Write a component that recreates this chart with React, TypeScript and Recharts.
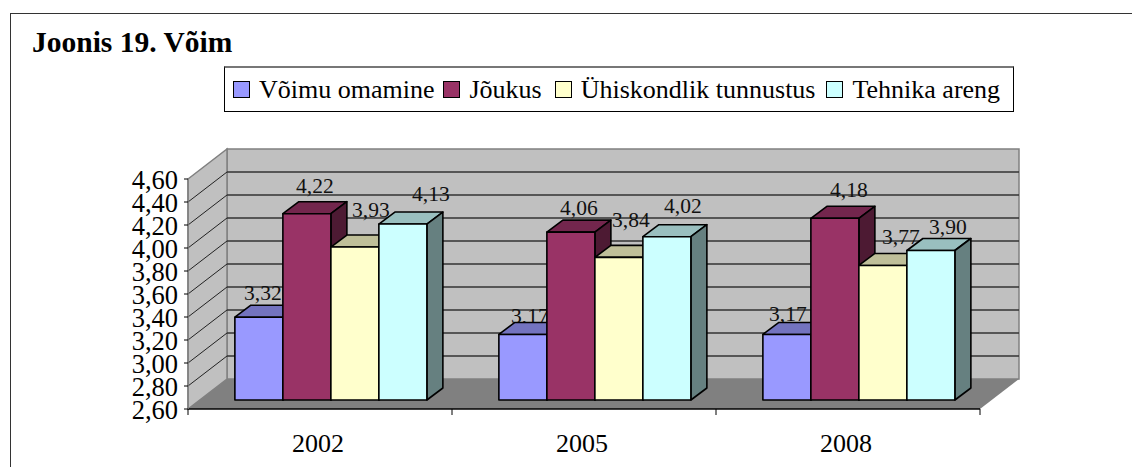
import {
  Bar,
  BarChart,
  CartesianGrid,
  Legend,
  ReferenceArea,
  XAxis,
  YAxis,
} from "recharts";

const years = ["2002", "2005", "2008"];
const voimuOmamine = [3.32, 3.17, 3.17];
const joukus = [4.22, 4.06, 4.18];
const tunnustus = [3.93, 3.84, 3.77];
const tehnika = [4.13, 4.02, 3.9];
const yTicks = [2.6, 2.8, 3.0, 3.2, 3.4, 3.6, 3.8, 4.0, 4.2, 4.4, 4.6];

const chartData = years.map((year, i) => ({
  year,
  voimuOmamine: voimuOmamine[i],
  joukus: joukus[i],
  tunnustus: tunnustus[i],
  tehnika: tehnika[i],
}));

const FONT = '"Liberation Serif", "Times New Roman", serif';
const WIDTH = 1132;
const HEIGHT = 467;
const PLOT_LEFT = 188;
const PLOT_RIGHT = 980;
const PLOT_TOP = 179;
const PLOT_BOTTOM = 409;
const LEGEND_HEIGHT = 46;

// fake 3D offsets: wall depth, bar plane, bar depth
const WALL_DX = 39;
const WALL_DY = 30;
const BAR_DX = 11.5;
const BAR_DY = 9;
const DEPTH_DX = 16;
const DEPTH_DY = 12;

const fmt = (v: number) => v.toFixed(2).replace(".", ",");

function Walls({ x, y, width, height }: any) {
  const r = x + width;
  const b = y + height;
  const pts = (arr: number[][]) => arr.map((p) => p.join(",")).join(" ");
  return (
    <g>
      <polygon
        points={pts([[x + WALL_DX, y - WALL_DY], [r + WALL_DX, y - WALL_DY], [r + WALL_DX, b - WALL_DY], [x + WALL_DX, b - WALL_DY]])}
        fill="#c0c0c0"
        stroke="#808080"
        strokeWidth={1.5}
      />
      <polygon
        points={pts([[x, y], [x + WALL_DX, y - WALL_DY], [x + WALL_DX, b - WALL_DY], [x, b]])}
        fill="#c0c0c0"
        stroke="#808080"
        strokeWidth={1.5}
      />
      <polygon
        points={pts([[x, b], [x + WALL_DX, b - WALL_DY], [r + WALL_DX, b - WALL_DY], [r, b]])}
        fill="#808080"
      />
    </g>
  );
}

function wallLine(props: any) {
  const { x1, x2, y1, key } = props;
  if (y1 >= PLOT_BOTTOM - 1 || y1 <= PLOT_TOP + 1) return <g key={key} />;
  return (
    <g key={key}>
      <line x1={x1} y1={y1} x2={x1 + WALL_DX} y2={y1 - WALL_DY} stroke="#222" strokeWidth={1} />
      <line x1={x1 + WALL_DX} y1={y1 - WALL_DY} x2={x2 + WALL_DX} y2={y1 - WALL_DY} stroke="#333" strokeWidth={1.4} />
    </g>
  );
}

// label nudges per series and year, the source chart placed them by hand
const labelNudges: Record<string, number[][]> = {
  voimuOmamine: [[4, -24], [7, -18], [1, -20]],
  joukus: [[8, -28], [8, -24], [14, -28]],
  tunnustus: [[16, -37], [12, -37], [18, -28]],
  tehnika: [[28, -30], [16, -31], [17, -24]],
};

// the value label sits inside the shape so later series can cover it, as in the source
function makeBar(series: string, front: string, top: string, side: string) {
  return function Box3D({ x, y, width, height, index, payload }: any) {
    const l = x + BAR_DX;
    const t = y - BAR_DY;
    const r = l + width;
    const b = t + height;
    const [nx, ny] = labelNudges[series][index];
    return (
      <g>
        <text
          x={l + width / 2 + nx}
          y={t + ny}
          textAnchor="middle"
          dominantBaseline="central"
          fontFamily={FONT}
          fontSize={21.5}
          fill="#111"
        >
          {fmt(payload[series])}
        </text>
        <g stroke="#000" strokeWidth={1.6} strokeLinejoin="round">
          <polygon
            points={`${l},${t} ${l + DEPTH_DX},${t - DEPTH_DY} ${r + DEPTH_DX},${t - DEPTH_DY} ${r},${t}`}
            fill={top}
          />
          <polygon
            points={`${r},${t} ${r + DEPTH_DX},${t - DEPTH_DY} ${r + DEPTH_DX},${b - DEPTH_DY} ${r},${b}`}
            fill={side}
          />
          <rect x={l} y={t} width={width} height={height} fill={front} />
        </g>
      </g>
    );
  };
}

function YearTick({ x, payload, index }: any) {
  const band = (PLOT_RIGHT - PLOT_LEFT) / years.length;
  return (
    <g>
      <line x1={x - band / 2} y1={PLOT_BOTTOM} x2={x - band / 2} y2={PLOT_BOTTOM + 6} stroke="#000" />
      {index === years.length - 1 && (
        <line x1={x + band / 2} y1={PLOT_BOTTOM} x2={x + band / 2} y2={PLOT_BOTTOM + 6} stroke="#000" />
      )}
      <text
        x={x - 2}
        y={PLOT_BOTTOM + 34}
        textAnchor="middle"
        dominantBaseline="central"
        fontFamily={FONT}
        fontSize={26}
        fill="#000"
      >
        {payload.value}
      </text>
    </g>
  );
}

function LegendBox({ payload }: any) {
  const gaps = [0, 9, 13, 11];
  return (
    <div
      style={{
        boxSizing: "border-box",
        width: 790,
        height: LEGEND_HEIGHT,
        border: "1px solid #000",
        borderTop: "2px solid #777",
        background: "#fff",
        display: "flex",
        alignItems: "center",
        paddingLeft: 8,
        fontFamily: FONT,
        fontSize: 26,
        color: "#000",
        whiteSpace: "nowrap",
      }}
    >
      {(payload || []).map((item: any, i: number) => (
        <span key={item.value} style={{ display: "flex", alignItems: "center", marginLeft: gaps[i] }}>
          <span
            style={{
              boxSizing: "border-box",
              display: "inline-block",
              width: 17,
              height: 17,
              marginRight: 9,
              border: "1.5px solid #000",
              background: item.color,
            }}
          />
          {item.value}
        </span>
      ))}
    </div>
  );
}

export default function App() {
  return (
    <div style={{ position: "absolute", left: 0, top: 0, width: WIDTH, height: HEIGHT, background: "#fff", overflow: "hidden" }}>
      <div
        style={{
          position: "absolute",
          left: 10,
          top: 13,
          right: 0,
          bottom: 0,
          borderLeft: "1.5px solid #333",
          borderTop: "1.5px solid #333",
        }}
      />
      <div
        style={{
          position: "absolute",
          left: 32,
          top: 25,
          fontFamily: FONT,
          fontWeight: "bold",
          fontSize: 29.5,
          lineHeight: "34px",
          color: "#000",
        }}
      >
        Joonis 19. Võim
      </div>
      <BarChart
        width={WIDTH}
        height={HEIGHT}
        data={chartData}
        margin={{ top: PLOT_TOP - LEGEND_HEIGHT, right: WIDTH - PLOT_RIGHT, left: PLOT_LEFT - 60, bottom: HEIGHT - PLOT_BOTTOM - 40 }}
        barCategoryGap="13.4%"
        barGap={0}
        style={{ position: "absolute", left: 0, top: 0 }}
      >
        <ReferenceArea y1={2.6} y2={4.6} ifOverflow="visible" shape={Walls} stroke="none" zIndex={-200} />
        <CartesianGrid vertical={false} horizontal={wallLine} />
        <XAxis
          dataKey="year"
          height={40}
          axisLine={{ stroke: "#000", strokeWidth: 1.5 }}
          tickLine={false}
          tick={YearTick}
          interval={0}
        />
        <YAxis
          width={60}
          domain={[2.6, 4.6]}
          ticks={yTicks}
          interval={0}
          tickFormatter={fmt}
          axisLine={{ stroke: "#808080", strokeWidth: 1.5 }}
          tickLine={{ stroke: "#000" }}
          tickSize={4}
          tickMargin={6}
          tick={{ fontFamily: FONT, fontSize: 26.5, fill: "#000", dy: 1 }}
        />
        <Legend
          verticalAlign="top"
          align="left"
          itemSorter={null}
          wrapperStyle={{ position: "absolute", left: 224, top: 66, width: 790, height: LEGEND_HEIGHT }}
          content={LegendBox}
        />
        <Bar dataKey="voimuOmamine" name="Võimu omamine" fill="#9999ff" isAnimationActive={false} shape={makeBar("voimuOmamine", "#9999ff", "#7373bf", "#4d4d80")} />
        <Bar dataKey="joukus" name="Jõukus" fill="#993366" isAnimationActive={false} shape={makeBar("joukus", "#993366", "#73264d", "#4d1a33")} />
        <Bar dataKey="tunnustus" name="Ühiskondlik tunnustus" fill="#ffffcc" isAnimationActive={false} shape={makeBar("tunnustus", "#ffffcc", "#bfbf99", "#808066")} />
        <Bar dataKey="tehnika" name="Tehnika areng" fill="#ccffff" isAnimationActive={false} shape={makeBar("tehnika", "#ccffff", "#99bfbf", "#668080")} />
      </BarChart>
    </div>
  );
}
